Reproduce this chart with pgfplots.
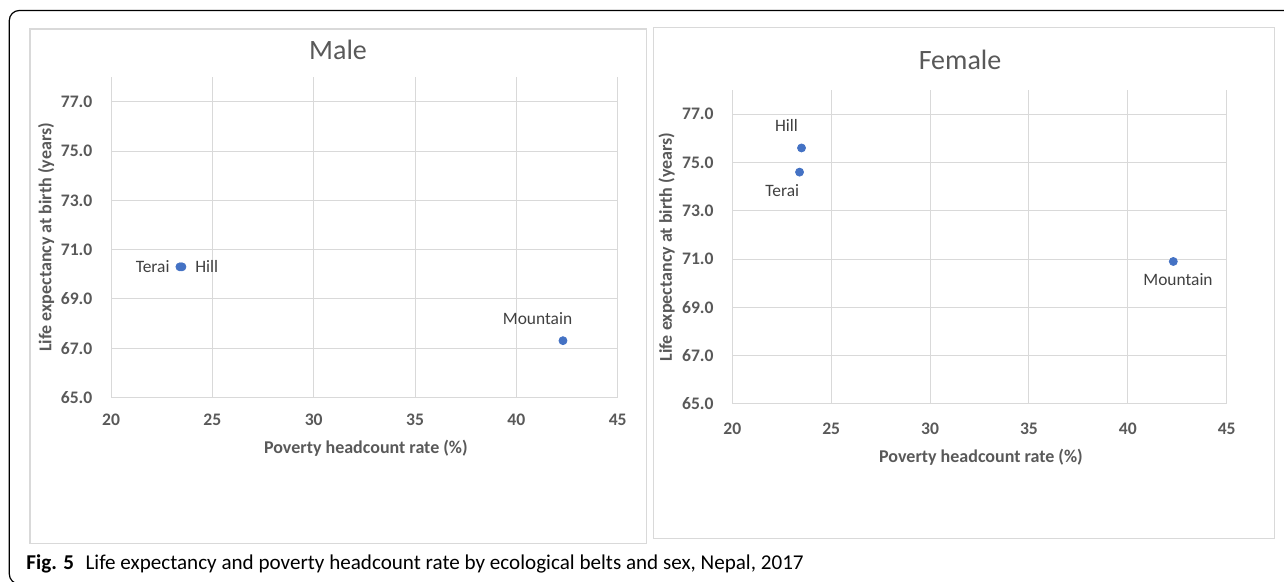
\documentclass[border=0pt]{standalone}
\usepackage{pgfplots}
\pgfplotsset{compat=1.18}
\usepackage{fontspec}
\setmainfont{Carlito}
\definecolor{gridc}{HTML}{D9D9D9}
\definecolor{boxc}{HTML}{D9D9D9}
\definecolor{txtc}{HTML}{595959}
\definecolor{lblc}{HTML}{404040}
\definecolor{dotc}{HTML}{4472C4}
\tikzset{lbl/.style={font=\fontsize{8.7}{10}\selectfont, text=lblc, inner sep=0pt}}
\pgfplotsset{
  belt/.style={
    scale only axis,
    clip=false,
    xmin=20, xmax=45, ymin=65, ymax=78,
    xtick={20,25,...,45}, ytick={65,67,...,77},
    grid=major,
    major grid style={draw=gridc, line width=0.5pt},
    axis line style={draw=none},
    tick style={draw=none},
    /pgf/number format/assume math mode=true,
    tick label style={font=\fontsize{8.8}{10}\selectfont\bfseries, text=txtc},
    y tick label style={/pgf/number format/fixed, /pgf/number format/fixed zerofill, /pgf/number format/precision=1},
    yticklabel style={anchor=east, inner sep=0pt, xshift=-9.15pt},
    label style={font=\fontsize{9}{10}\selectfont\bfseries, text=txtc},
  },
}
\begin{document}
\begin{tikzpicture}
\useasboundingbox (0,0) rectangle (642pt,291pt);
% outer frame
\draw[line width=0.6pt, rounded corners=5pt] (4.65pt,-1pt) rectangle (700pt,285.75pt);
% panel boxes
\draw[boxc, line width=0.6pt] (15pt,19.35pt) rectangle (323.35pt,276.5pt);
\draw[boxc, line width=0.6pt] (326.65pt,21.85pt) rectangle (637.15pt,277.35pt);
% titles
\node[font=\fontsize{14}{16}\selectfont, text=txtc] at (169pt,266pt) {Male};
\node[font=\fontsize{14}{16}\selectfont, text=txtc] at (480pt,261.25pt) {Female};

% Male
\begin{axis}[belt,
  at={(55.5pt,92.35pt)}, anchor=south west,
  width=253.35pt, height=160pt,
  xticklabel style={anchor=center, yshift=-11.35pt},
  xlabel={Poverty headcount rate (\%)},
  ylabel={Life expectancy at birth (years)},
  xlabel style={at={(axis description cs:0.503,-0.1584)}, anchor=center},
  ylabel style={at={(axis description cs:-0.1283,0.5)}, anchor=center},
]
\addplot[only marks, mark=*, mark size=2pt, mark options={draw=dotc, fill=dotc}]
  coordinates {(23.4,70.3) (23.5,70.3) (42.3,67.3)};
\node[lbl, anchor=east, xshift=-5pt] at (axis cs:23.4,70.3) {Terai};
\node[lbl, anchor=west, xshift=6.5pt] at (axis cs:23.5,70.3) {Hill};
\node[lbl, anchor=east, xshift=4.8pt, yshift=10.85pt] at (axis cs:42.3,67.3) {Mountain};
\end{axis}

% Female
\begin{axis}[belt,
  at={(366.15pt,89pt)}, anchor=south west,
  width=247.2pt, height=157pt,
  xticklabel style={anchor=center, yshift=-12.5pt},
  xlabel={Poverty headcount rate (\%)},
  ylabel={Life expectancy at birth (years)},
  xlabel style={at={(axis description cs:0.503,-0.1688)}, anchor=center},
  ylabel style={at={(axis description cs:-0.1327,0.5)}, anchor=center},
]
\addplot[only marks, mark=*, mark size=2pt, mark options={draw=dotc, fill=dotc}]
  coordinates {(23.5,75.6) (23.4,74.6) (42.3,70.9)};
\node[lbl, xshift=-7.5pt, yshift=11.15pt] at (axis cs:23.5,75.6) {Hill};
\node[lbl, xshift=-8.65pt, yshift=-9.15pt] at (axis cs:23.4,74.6) {Terai};
\node[lbl, xshift=2.35pt, yshift=-9.15pt] at (axis cs:42.3,70.9) {Mountain};
\end{axis}

% caption
\node[anchor=base west, inner sep=0pt, font=\fontsize{10.55}{12}\selectfont] at (13pt,6pt)
  {\textbf{Fig. 5}\hspace{0.55em}Life expectancy and poverty headcount rate by ecological belts and sex, Nepal, 2017};
\end{tikzpicture}
\end{document}
